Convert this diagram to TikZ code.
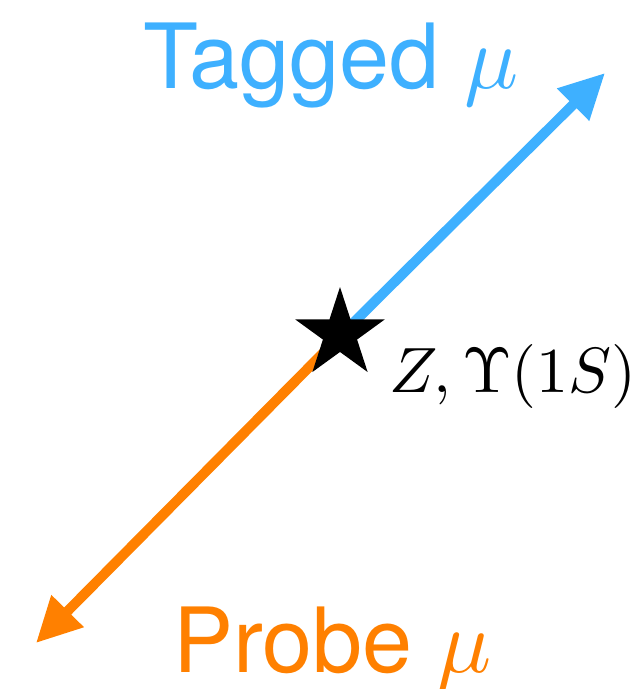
\documentclass[tikz,border=0pt]{standalone}
\usepackage{fontspec}
\usepackage{graphicx}
\newfontfamily\heros{TeX Gyre Heros}
\usetikzlibrary{arrows.meta,shapes.geometric}
\definecolor{tagblue}{RGB}{62,176,255}
\definecolor{probeorange}{RGB}{255,128,0}
\tikzset{
  muarrow/.style={line width=10pt,-{Triangle[length=45pt,width=43pt]}},
  bigtext/.style={font=\heros\fontsize{10}{12}\selectfont,inner sep=0pt,outer sep=0pt},
  starnode/.style={star,star points=5,star point ratio=2.618,minimum size=94pt,inner sep=0pt,outer sep=0pt,fill=black,draw=none}
}
\begin{document}
\begin{tikzpicture}[x=1pt,y=-1pt]
\useasboundingbox (0,0) rectangle (636,689);
\coordinate (c) at (338,338);
\coordinate (tagtip) at (605,73);
\coordinate (probetip) at (36,643);
\draw[muarrow,tagblue] (c) -- (tagtip);
\draw[muarrow,probeorange] (c) -- (probetip);
\node[starnode] (star) at (340,334) {};
\node[bigtext,text=tagblue,anchor=base west] (tagged) at (143,88) {\scalebox{9}{Tagged $\mu$}};
\node[bigtext,text=probeorange,anchor=base west] (probe) at (173,672) {\scalebox{9}{Probe $\mu$}};
\node[inner sep=0pt,outer sep=0pt,anchor=base west,font=\fontsize{10}{12}\selectfont] (zlabel) at (389,392) {\scalebox{6.4}{$Z, \Upsilon(1S)$}};
\end{tikzpicture}
\end{document}
